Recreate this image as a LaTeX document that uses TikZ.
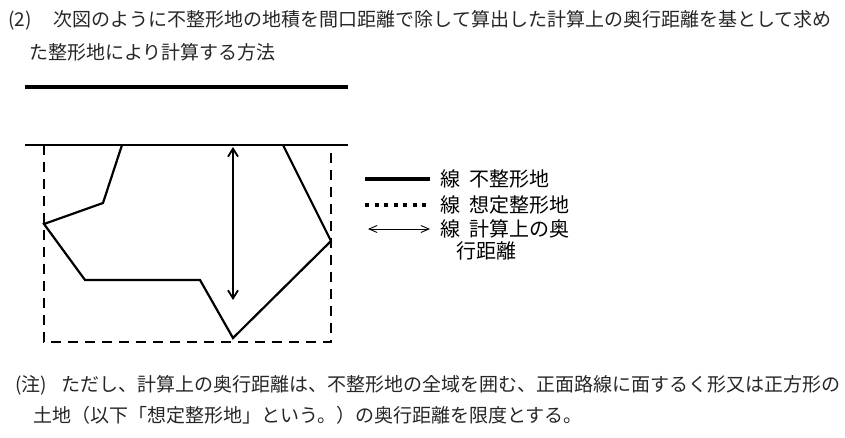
\documentclass[tikz,border=0pt]{standalone}
\usepackage{fontspec}
\setmainfont{Noto Sans CJK JP}
\usetikzlibrary{arrows.meta}
\begin{document}
\begin{tikzpicture}[x=1pt,y=-1pt,
  txt/.style={anchor=west,inner sep=0pt,font=\fontsize{19}{19}\selectfont,text=black!85},
  lg/.style={anchor=west,inner sep=0pt,font=\fontsize{20}{20}\selectfont},
  dashln/.style={line width=2pt,dash pattern=on 10pt off 7pt}]
\useasboundingbox (0,0) rectangle (845,438);
\node[txt] (t1) at (8,20) {(2)\hspace{22pt}次図のように不整形地の地積を間口距離で除して算出した計算上の奥行距離を基として求め};
\node[txt] (t2) at (29,52) {た整形地により計算する方法};
\coordinate (r1) at (25,87); \coordinate (r2) at (348,87);
\draw[line width=3.5pt] (r1) -- (r2);
\coordinate (f1) at (25,145); \coordinate (f2) at (348,145);
\draw[line width=2.2pt] (f1) -- (f2);
\draw[dashln] (44,145) -- (44,342) -- (331,342) -- (331,145);
\draw[line width=2.2pt,line join=miter] (122,145) -- (103,203) -- (44,224) -- (85,280) -- (200,280) -- (233,338) -- (331,241) -- (283,145);
\coordinate (a1) at (233,147); \coordinate (a2) at (233,300);
\draw[line width=1.8pt,<->,>={Straight Barb[length=8pt,width=10pt]}] (a1) -- (a2);
\coordinate (l1a) at (365,179); \coordinate (l1b) at (430,179);
\draw[line width=3.5pt] (l1a) -- (l1b);
\coordinate (l2a) at (365,205); \coordinate (l2b) at (430,205);
\draw[line width=3.5pt,dash pattern=on 4pt off 5.5pt] (l2a) -- (l2b);
\coordinate (l3a) at (368,229); \coordinate (l3b) at (430,229);
\draw[line width=0.9pt,<->,>={Straight Barb[length=8pt,width=7pt]}] (l3a) -- (l3b);
\node[lg] (g1) at (440,179) {線\ \ 不整形地};
\node[lg] (g2) at (440,205) {線\ \ 想定整形地};
\node[lg] (g3) at (440,229) {線\ \ 計算上の奥};
\node[lg] (g4) at (456,251) {行距離};
\node[txt] (n1) at (15,385) {(注)\hspace{14pt}ただし、計算上の奥行距離は、不整形地の全域を囲む、正面路線に面するく形又は正方形の};
\node[txt] (n2) at (33,415) {土地（以下「想定整形地」という。）の奥行距離を限度とする。};
\end{tikzpicture}
\end{document}
